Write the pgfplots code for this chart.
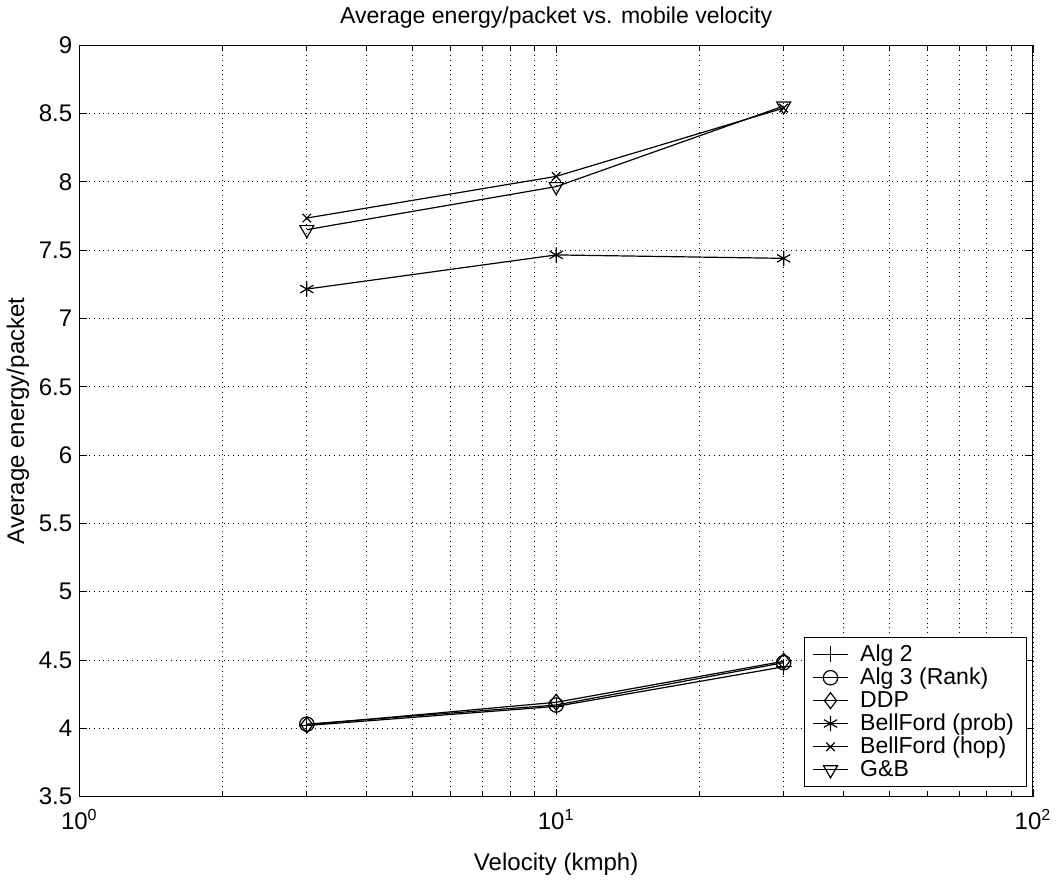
\documentclass[border=0pt]{standalone}
\usepackage{fontspec}
\setmainfont{Liberation Sans}
\usepackage{pgfplots}
\pgfplotsset{compat=1.18}
\begin{document}
\begin{tikzpicture}
\begin{axis}[
  scale only axis,
  width=476pt, height=375pt,
  xmode=log, log basis x=10,
  xmin=1, xmax=100, ymin=3.5, ymax=9,
  xtick={1,10,100},
  xticklabels={10\textsuperscript{0},10\textsuperscript{1},10\textsuperscript{2}},
  minor xtick={2,3,4,5,6,7,8,9,20,30,40,50,60,70,80,90},
  ytick={3.5,4,4.5,5,5.5,6,6.5,7,7.5,8,8.5,9},
  yticklabels={3.5,4,4.5,5,5.5,6,6.5,7,7.5,8,8.5,9},
  tick align=inside,
  tick style={black, line width=0.4pt},
  major tick length=4pt, minor tick length=2.5pt,
  xminorgrids, xmajorgrids, ymajorgrids,
  grid style={black, dotted, line width=0.4pt},
  minor grid style={black, dotted, line width=0.4pt},
  axis line style={black, line width=0.5pt},
  ticklabel style={font=\fontsize{12}{13}\selectfont},
  xticklabel style={yshift=-3pt},
  title={Average energy/packet vs. mobile velocity},
  title style={font=\fontsize{11.5}{13}\selectfont, yshift=-1pt},
  xlabel={Velocity (kmph)},
  ylabel={Average energy/packet},
  label style={font=\fontsize{12}{13}\selectfont},
  xlabel style={yshift=-5pt},
  ylabel style={yshift=-2pt},
  legend cell align=left,
  legend style={font=\fontsize{11.5}{13}\selectfont, draw=black, inner xsep=4pt, inner ysep=1.5pt, row sep=-2.2pt,
    nodes={inner xsep=2pt},
    /tikz/every odd column/.append style={column sep=4pt},
    at={(0.993,0.013)}, anchor=south east},
]
\addplot[black, line width=0.6pt, mark=+, mark size=4pt, mark options={solid}] coordinates {(3,4.02) (10,4.16) (30,4.45)};
\addlegendentry{Alg 2}
\addplot[black, line width=0.6pt, mark=o, mark size=3.6pt, mark options={solid}] coordinates {(3,4.03) (10,4.17) (30,4.48)};
\addlegendentry{Alg 3 (Rank)}
\addplot[black, line width=0.6pt, mark=diamond, mark size=4pt, mark options={solid}] coordinates {(3,4.025) (10,4.19) (30,4.49)};
\addlegendentry{DDP}
\addplot[black, line width=0.6pt, mark=asterisk, mark size=3.8pt, mark options={solid}] coordinates {(3,7.215) (10,7.465) (30,7.44)};
\addlegendentry{BellFord (prob)}
\addplot[black, line width=0.6pt, mark=x, mark size=3pt, mark options={solid}] coordinates {(3,7.735) (10,8.04) (30,8.54)};
\addlegendentry{BellFord (hop)}
\addplot[black, line width=0.6pt, mark=triangle, mark size=4pt, mark options={solid, rotate=180}] coordinates {(3,7.65) (10,7.965) (30,8.555)};
\addlegendentry{G\&B}
\end{axis}
\end{tikzpicture}
\end{document}
